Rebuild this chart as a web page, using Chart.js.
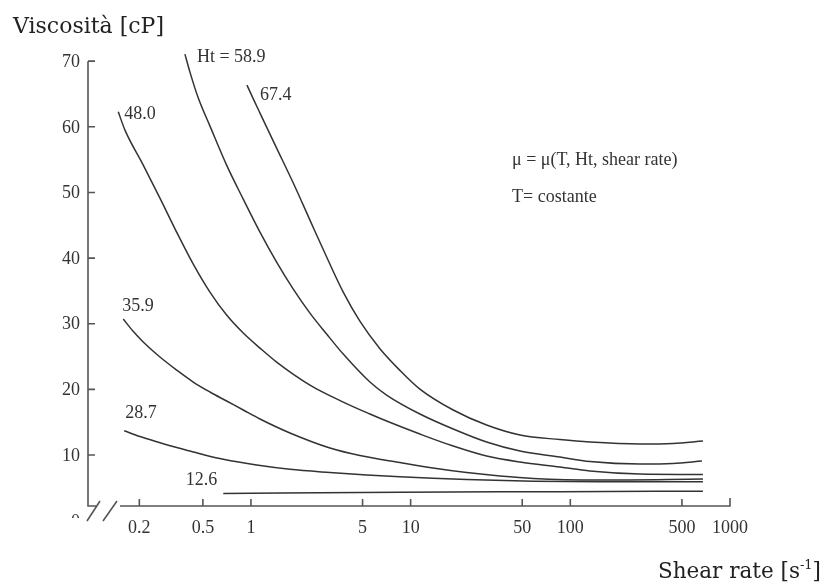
<!DOCTYPE html>
<html>
<head>
<meta charset="utf-8">
<script src="https://cdn.jsdelivr.net/npm/chart.js@4.4.0/dist/chart.umd.min.js"></script>
<style>
    html, body { margin: 0; padding: 0; background: #fff; }
</style>
</head>
<body>
<canvas id="myLineChart" width="829" height="586"></canvas>
<script>
// curve labels (hematocrit)
const ht_labels = ['Ht = 58.9', '67.4', '48.0', '35.9', '28.7', '12.6'];

// shear rate [1/s] and viscosity [cP], one pair per curve
const ht589_x = [0.386, 0.415, 0.468, 0.554, 0.704, 0.895, 1.139, 1.448, 1.841, 2.341, 2.979, 3.784, 5.56, 7.07, 11.43, 18.48, 29.9, 48.4, 86.1, 132.7, 272.8, 439, 667];
const ht589_y = [71.07, 68.33, 64.37, 60.10, 54.16, 48.98, 43.96, 39.39, 35.28, 31.62, 28.43, 25.38, 21.12, 19.14, 16.25, 13.96, 11.98, 10.61, 9.70, 9.01, 8.63, 8.71, 9.09];

const ht674_x = [0.944, 1.029, 1.139, 1.448, 1.841, 2.341, 2.979, 3.784, 4.809, 6.424, 8.57, 11.43, 18.48, 29.9, 48.4, 86.1, 132.7, 272.8, 439, 677];
const ht674_y = [66.35, 64.37, 62.09, 56.76, 51.43, 45.79, 40.16, 34.82, 30.4, 26.2, 22.9, 20.05, 16.86, 14.57, 13.05, 12.36, 11.98, 11.68, 11.76, 12.14];

const ht480_x = [0.1476, 0.1626, 0.2116, 0.2692, 0.3424, 0.4352, 0.5536, 0.7042, 0.895, 1.139, 1.448, 2.341, 3.784, 5.56, 7.07, 11.43, 18.48, 29.9, 48.4, 86.1, 132.7, 272.8, 677];
const ht480_y = [62.28, 59.49, 54.16, 49.13, 43.96, 39.08, 34.82, 31.32, 28.58, 26.29, 24.16, 20.66, 18.07, 16.25, 15.18, 13.20, 11.37, 9.85, 8.94, 8.18, 7.57, 7.11, 7.04];

const ht359_x = [0.1586, 0.1824, 0.2116, 0.2692, 0.3424, 0.4352, 0.5536, 0.7042, 0.895, 1.139, 1.755, 3.124, 4.809, 8.57, 13.79, 22.42, 36.25, 58.59, 153.2, 677];
const ht359_y = [30.71, 28.89, 27.21, 24.93, 22.95, 21.12, 19.60, 18.23, 16.86, 15.49, 13.36, 11.07, 9.93, 8.86, 8.03, 7.34, 6.81, 6.43, 6.20, 6.35];

const ht287_x = [0.1609, 0.2018, 0.2571, 0.3248, 0.415, 0.5279, 0.6708, 1.086, 1.755, 3.124, 5.301, 8.57, 13.79, 22.42, 58.59, 153.2, 677];
const ht287_y = [13.70, 12.82, 12.03, 11.30, 10.61, 9.93, 9.35, 8.48, 7.83, 7.34, 6.96, 6.68, 6.46, 6.27, 6.01, 5.94, 5.94];

const ht126_x = [0.671, 8.57, 86.1, 677];
const ht126_y = [4.16, 4.35, 4.42, 4.50];

// axis ticks
const x_ticks = [0.2, 0.5, 1, 5, 10, 50, 100, 500, 1000];
const y_ticks = [10, 20, 30, 40, 50, 60, 70];

const all_x = [ht589_x, ht674_x, ht480_x, ht359_x, ht287_x, ht126_x];
const all_y = [ht589_y, ht674_y, ht480_y, ht359_y, ht287_y, ht126_y];

// where each curve label sits relative to the curve start [dx, dy, align]
const label_offsets = [[12, 3, 'left'], [13, 10, 'left'], [6, 2, 'left'], [-1, -13, 'left'], [1, -17, 'left'], [-6, -13, 'right']];

const serif = '"Liberation Serif", "Times New Roman", serif';
const title_font = '"DejaVu Serif", serif';
const ink = '#333';

function to_points(xs, ys) {
    return xs.map((v, i) => ({x: v, y: ys[i]}));
}

const axes_plugin = {
    id: 'axes_plugin',
    afterDatasetsDraw(chart) {
        const ctx = chart.ctx;
        const xs = chart.scales.x;
        const ys = chart.scales.y;
        const left = xs.getPixelForValue(xs.min);
        const bottom = ys.getPixelForValue(ys.min);
        const right = xs.getPixelForValue(1000);
        const top = ys.getPixelForValue(70);

        ctx.save();
        ctx.strokeStyle = '#555';
        ctx.lineWidth = 1.6;

        // axes, inward ticks and the break on the x axis
        ctx.beginPath();
        ctx.moveTo(left, top);
        ctx.lineTo(left, bottom);
        ctx.lineTo(left + 9, bottom);
        ctx.moveTo(left + 32, bottom);
        ctx.lineTo(right, bottom);
        ctx.lineTo(right, bottom - 8);
        y_ticks.forEach(v => {
            const p = ys.getPixelForValue(v);
            ctx.moveTo(left, p);
            ctx.lineTo(left + 7, p);
        });
        x_ticks.forEach(v => {
            const p = xs.getPixelForValue(v);
            ctx.moveTo(p, bottom);
            ctx.lineTo(p, bottom - 7);
        });
        ctx.moveTo(left - 1, bottom + 15);
        ctx.lineTo(left + 12, bottom - 5);
        ctx.moveTo(left + 15, bottom + 15);
        ctx.lineTo(left + 29, bottom - 5);
        ctx.stroke();

        // tick labels
        ctx.fillStyle = '#333';
        ctx.font = '18px ' + serif;
        ctx.textAlign = 'right';
        ctx.textBaseline = 'middle';
        y_ticks.forEach(v => {
            ctx.fillText(String(v), left - 8, ys.getPixelForValue(v) + 1);
        });
        ctx.save();
        ctx.beginPath();
        ctx.rect(0, 0, left, bottom + 12);
        ctx.clip();
        ctx.fillText('0', left - 8, ys.getPixelForValue(0) + 2);
        ctx.restore();
        ctx.textAlign = 'center';
        x_ticks.forEach(v => {
            ctx.fillText(String(v), xs.getPixelForValue(v), bottom + 22);
        });

        // curve labels
        ctx.font = '18px ' + serif;
        ht_labels.forEach((t, i) => {
            const first = chart.getDatasetMeta(i).data[0];
            const off = label_offsets[i];
            ctx.textAlign = off[2];
            ctx.fillText(t, first.x + off[0], first.y + off[1]);
        });

        // note
        ctx.textAlign = 'left';
        ctx.font = '18px ' + serif;
        ctx.fillText('\u03bc = \u03bc(T, Ht, shear rate)', 512, 160);
        ctx.fillText('T= costante', 512, 197);

        // axis titles
        ctx.fillStyle = '#222';
        ctx.textBaseline = 'alphabetic';
        ctx.font = '22px ' + title_font;
        ctx.fillText('Viscosit\u00e0 [cP]', 13, 33);

        const base = 578;
        ctx.font = '21.5px ' + title_font;
        const a = 'Shear rate [s';
        const wa = ctx.measureText(a).width;
        ctx.font = '13px ' + title_font;
        const b = '-1';
        const wb = ctx.measureText(b).width;
        ctx.font = '21.5px ' + title_font;
        const wc = ctx.measureText(']').width;
        const x0 = 821 - (wa + wb + wc);
        ctx.fillText(a, x0, base);
        ctx.font = '13px ' + title_font;
        ctx.fillText(b, x0 + wa, base - 9);
        ctx.font = '21.5px ' + title_font;
        ctx.fillText(']', x0 + wa + wb, base);
        ctx.restore();
    }
};

const ctx = document.getElementById('myLineChart').getContext('2d');
const myLineChart = new Chart(ctx, {
    type: 'line',
    data: {
        datasets: all_x.map((xs, i) => ({
            label: ht_labels[i],
            data: to_points(xs, all_y[i]),
            borderColor: ink,
            borderWidth: 1.5,
            pointRadius: 0,
            fill: false,
            cubicInterpolationMode: 'monotone'
        }))
    },
    options: {
        responsive: false,
        animation: false,
        devicePixelRatio: 1,
        layout: {
            padding: {left: 88, right: 99, top: 48, bottom: 80}
        },
        plugins: {
            legend: {display: false},
            tooltip: {enabled: false}
        },
        scales: {
            x: {
                type: 'logarithmic',
                min: 0.0954,
                max: 1000,
                display: false
            },
            y: {
                type: 'linear',
                min: 2.24,
                max: 72,
                display: false
            }
        }
    },
    plugins: [axes_plugin]
});
</script>
</body>
</html>
